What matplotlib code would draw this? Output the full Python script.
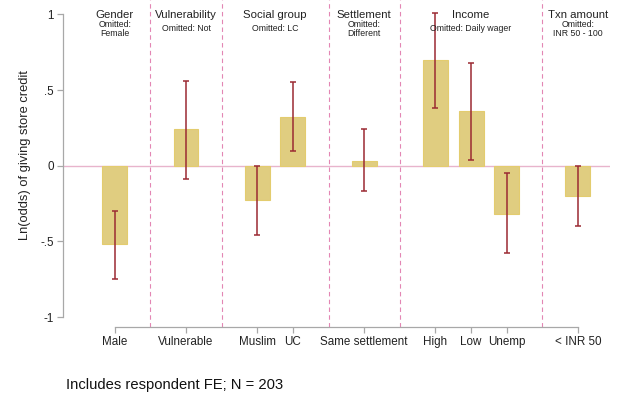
import matplotlib
matplotlib.use('Agg')
import matplotlib.pyplot as plt

plt.rcParams['font.family'] = ['Liberation Sans', 'DejaVu Sans']

# groups of regressors, each with its omitted category
groups = ['Gender', 'Vulnerability', 'Social group', 'Settlement', 'Income', 'Txn amount']
omitted = ['Omitted:\nFemale', 'Omitted: Not', 'Omitted: LC', 'Omitted:\nDifferent',
           'Omitted: Daily wager', 'Omitted:\nINR 50 - 100']
members = [['Male'], ['Vulnerable'], ['Muslim', 'UC'], ['Same settlement'],
           ['High', 'Low', 'Unemp'], ['< INR 50']]

# coefficients and 95% CI
coef = [-0.52, 0.24, -0.23, 0.32, 0.03, 0.70, 0.36, -0.32, -0.20]
ci_lo = [-0.75, -0.09, -0.46, 0.10, -0.17, 0.38, 0.04, -0.58, -0.40]
ci_hi = [-0.30, 0.56, 0.00, 0.55, 0.24, 1.01, 0.68, -0.05, 0.00]

yticks = [-1, -0.5, 0, 0.5, 1]
ytick_labels = ['-1', '-.5', '0', '.5', '1']

# x positions: one empty slot between groups, divider in that slot
xpos, labels, centers, dividers = [], [], [], []
x = 0
for i, m in enumerate(members):
    grp = []
    for lab in m:
        xpos.append(x)
        labels.append(lab)
        grp.append(x)
        x += 1
    centers.append(sum(grp) / len(grp))
    if i < len(members) - 1:
        dividers.append(x)
        x += 1

fig = plt.figure(figsize=(6.24, 3.98), dpi=100)
ax = fig.add_axes([62.7 / 624, 71.3 / 398, (610 - 62.7) / 624, 326.7 / 398])
ax.set_xlim(-1.46, 13.9)
ax.set_ylim(-1.064, 1.095)

ax.axhline(0, color='#e8b4cc', lw=1.0, zorder=1)
for d in dividers:
    ax.axvline(d, color='#e386b4', lw=0.8, ls=(0, (4, 3)), zorder=1)

ax.bar(xpos, coef, width=0.7, color='#e0cd80', edgecolor='#e3cc6e', lw=0.8, zorder=2)
err_lo = [c - l for c, l in zip(coef, ci_lo)]
err_hi = [h - c for c, h in zip(coef, ci_hi)]
ax.errorbar(xpos, coef, yerr=[err_lo, err_hi], fmt='none', ecolor='#9b2a33',
            elinewidth=1.1, capsize=2.5, capthick=1.1, zorder=3)

for s in ['top', 'right']:
    ax.spines[s].set_visible(False)
ax.spines['left'].set_bounds(-1, 1)
ax.spines['bottom'].set_bounds(0, xpos[-1])
for s in ['left', 'bottom']:
    ax.spines[s].set_color('#a8a8a8')
    ax.spines[s].set_linewidth(0.9)

ax.set_yticks(yticks)
ax.set_yticklabels(ytick_labels)
ax.set_xticks(xpos)
ax.set_xticklabels(labels)
ax.tick_params(axis='both', colors='#a8a8a8', labelcolor='#222222', labelsize=8.4,
               length=4, width=0.9, pad=2.5)

# group headers
for cx, g, o in zip(centers, groups, omitted):
    ax.text(cx, (165.7 - 15) / 151.3, g, ha='center', va='center', fontsize=8.2,
            color='#222222')
    ax.text(cx, (165.7 - 29) / 151.3, o, ha='center', va='center', fontsize=6.3,
            color='#222222', linespacing=0.98, multialignment='center')

fig.text(25 / 624, 1 - 155 / 398, 'Ln(odds) of giving store credit', rotation=90,
         ha='center', va='center', fontsize=9.3, color='#222222')
fig.text(66 / 624, 1 - 385 / 398, 'Includes respondent FE; N = 203', ha='left',
         va='center', fontsize=10.6, color='#111111')

fig.savefig('out.png', dpi=100)
